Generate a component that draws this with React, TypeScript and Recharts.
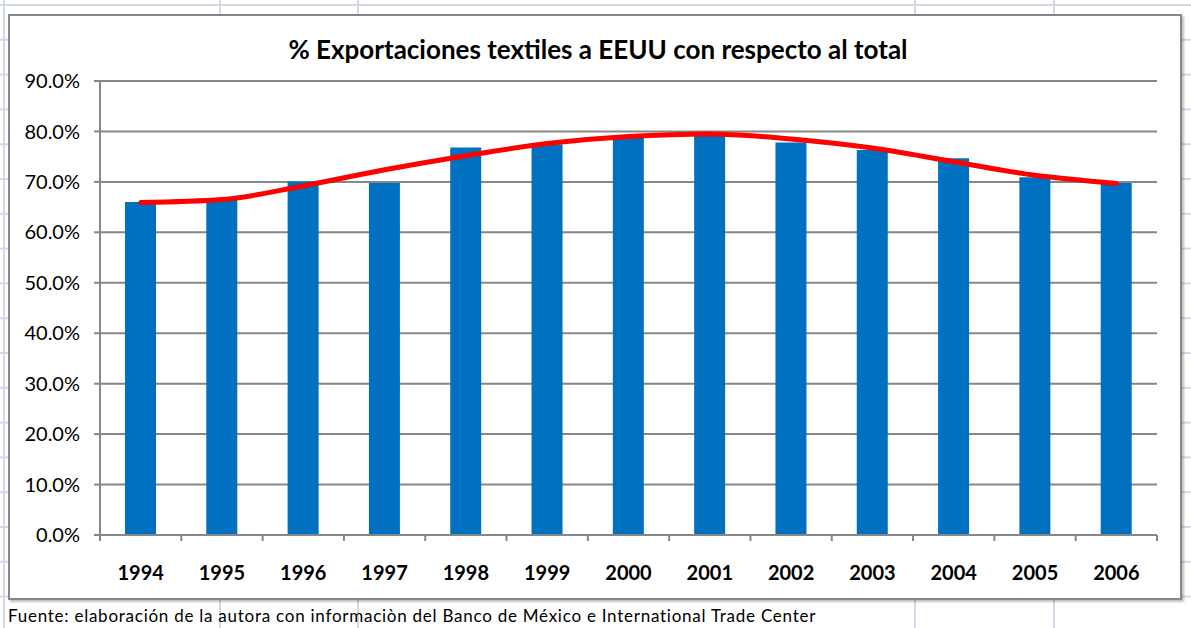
import { ComposedChart, Bar, Line, XAxis, YAxis, CartesianGrid } from "recharts"

const years = ['1994', '1995', '1996', '1997', '1998', '1999', '2000', '2001', '2002', '2003', '2004', '2005', '2006']
const exportShare = [66.0, 66.4, 70.1, 69.8, 76.8, 77.4, 79.0, 79.3, 77.8, 76.3, 74.7, 70.9, 69.8]
const trendShare = [65.9, 66.5, 69.2, 72.4, 75.2, 77.6, 79.0, 79.5, 78.5, 76.7, 74.0, 71.3, 69.7]
const yTicks = [0, 10, 20, 30, 40, 50, 60, 70, 80, 90]

const data = years.map((year, i) => ({ year, share: exportShare[i], trend: trendShare[i] }))

const font = "Lato, 'Open Sans', sans-serif"
const axisGray = '#878787'
const sheetLine = '#d3dae7'
const X_TICK_SIZE = 6
const X_TICK_MARGIN = 25

// x label plus Excel-style tick marks on the category boundaries
function YearTick(props: any) {
  const { x, y, payload, index, visibleTicksCount } = props
  const half = payload.offset ?? 0
  const axisY = y - X_TICK_SIZE - X_TICK_MARGIN
  const isLast = index === visibleTicksCount - 1
  return (
    <g>
      <line x1={x - half} y1={axisY} x2={x - half} y2={axisY + X_TICK_SIZE} stroke={axisGray} strokeWidth={2} />
      {isLast && (
        <line x1={x + half} y1={axisY} x2={x + half} y2={axisY + X_TICK_SIZE} stroke={axisGray} strokeWidth={2} />
      )}
      <text x={x} y={y} dy="0.71em" textAnchor="middle" fill="#000" fontSize={20} fontWeight={700} fontFamily={font}>
        {payload.value}
      </text>
    </g>
  )
}

// faint spreadsheet cells behind the chart box
function SheetBackground() {
  const rows = Array.from({ length: 18 }, (_, i) => 5 + i * 34.8)
  return (
    <svg width={1191} height={628} style={{ position: 'absolute', left: 0, top: 0 }}>
      <line x1={0} y1={5} x2={1191} y2={5} stroke={sheetLine} strokeWidth={2} />
      <line x1={4} y1={0} x2={4} y2={628} stroke={sheetLine} strokeWidth={2} />
      {[220, 358, 915, 1054].map(x => (
        <line key={x} x1={x} y1={0} x2={x} y2={628} stroke={sheetLine} strokeWidth={2} />
      ))}
      {rows.map(y => (
        <g key={y}>
          <line x1={0} y1={y} x2={8} y2={y} stroke={sheetLine} strokeWidth={2} />
          <line x1={1182} y1={y} x2={1191} y2={y} stroke={sheetLine} strokeWidth={2} />
        </g>
      ))}
    </svg>
  )
}

export default function App() {
  return (
    <div style={{ position: 'absolute', left: 0, top: 0, width: 1191, height: 628, overflow: 'hidden', background: '#fff', fontFamily: font }}>
      <SheetBackground />
      <div
        style={{
          position: 'absolute',
          left: 8,
          top: 14,
          width: 1174,
          height: 586,
          boxSizing: 'border-box',
          border: `2px solid ${axisGray}`,
          background: '#fff',
          boxShadow: '2px 2px 2px rgba(0,0,0,0.25)',
        }}
      >
        <div
          style={{
            position: 'absolute',
            left: 0,
            width: 1176,
            top: 17,
            textAlign: 'center',
            fontSize: 26,
            fontWeight: 700,
            color: '#000',
          }}
        >
          % Exportaciones textiles a EEUU con respecto al total
        </div>
        <ComposedChart width={1170} height={582} data={data} margin={{ top: 65, right: 23, bottom: 0, left: 0 }}>
          <CartesianGrid vertical={false} stroke={axisGray} strokeWidth={2} />
          <XAxis
            dataKey="year"
            height={63}
            interval={0}
            tickLine={false}
            tickSize={X_TICK_SIZE}
            tickMargin={X_TICK_MARGIN}
            axisLine={{ stroke: axisGray, strokeWidth: 2 }}
            tick={<YearTick />}
          />
          <YAxis
            domain={[0, 90]}
            ticks={yTicks}
            interval={0}
            width={90}
            tickSize={6}
            tickMargin={14}
            tickFormatter={(v: number) => `${v.toFixed(1)}%`}
            axisLine={{ stroke: axisGray, strokeWidth: 2 }}
            tickLine={{ stroke: axisGray, strokeWidth: 2 }}
            tick={{ fill: '#000', fontSize: 20, fontFamily: font }}
          />
          <Bar dataKey="share" fill="#0070C0" barSize={31} isAnimationActive={false} />
          <Line
            dataKey="trend"
            type="monotone"
            stroke="#FF0000"
            strokeWidth={5}
            strokeLinecap="round"
            dot={false}
            activeDot={false}
            isAnimationActive={false}
          />
        </ComposedChart>
      </div>
      <div style={{ position: 'absolute', left: 8, top: 605, fontSize: 17, letterSpacing: 0.75, color: '#000', whiteSpace: 'nowrap' }}>
        Fuente: elaboración de la autora con informaciòn del Banco de México e International Trade Center
      </div>
    </div>
  )
}
